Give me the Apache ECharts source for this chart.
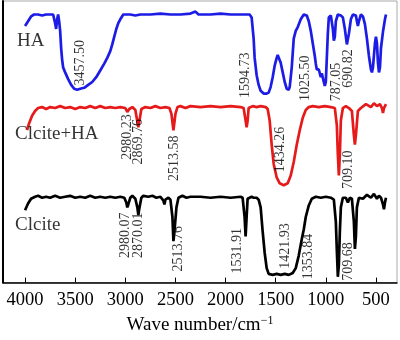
<!DOCTYPE html>
<html>
<head>
<meta charset="utf-8">
<script src="https://cdn.jsdelivr.net/npm/echarts@6/dist/echarts.min.js"></script>
<style>html,body{margin:0;padding:0;background:#fff}#c{width:400px;height:340px}</style>
</head>
<body>
<div id="c"></div>
<script>
// Wavenumber (cm^-1) and offset transmittance (a.u.)
const haWave = [4000,3970,3940,3910,3870,3830,3790,3750,3720,3700,3690,3680,3670,3660,3650,3640,3630,3620,3600,3570,3540,3510,3480,3450,3410,3370,3330,3290,3250,3210,3180,3150,3130,3110,3090,3070,3050,3020,2950,2900,2850,2750,2650,2550,2450,2350,2300,2270,2150,2050,1950,1850,1760,1740,1720,1710,1690,1670,1650,1620,1590,1570,1550,1530,1510,1490,1480,1470,1450,1430,1410,1390,1370,1360,1340,1320,1300,1280,1250,1220,1190,1170,1150,1130,1110,1100,1090,1080,1070,1050,1040,1030,1020,1010,1000,990,980,970,950,930,920,910,900,880,850,830,810,790,780,770,750,730,700,690,680,670,650,630,610,590,570,550,540,530,510,500,490,480,470,460,450,430,410,400];
const haT = [266,271,276,278,278,277,278,278,278,269,263,273,278,271,261,243,231,223,218,211,205,201,200,201,202,205,208,213,220,227,233,240,247,255,263,269,273,278,278,277,278,278,279,278,278,279,281,278,278,279,278,278,278,275,253,233,215,205,199,196,196,197,203,213,225,233,236,235,228,218,208,201,200,203,223,253,261,265,273,278,277,271,261,248,235,227,221,223,221,213,217,215,208,204,208,233,258,275,277,263,251,255,271,278,277,275,263,247,248,258,273,278,277,271,266,271,278,276,268,253,235,221,218,223,248,255,248,228,218,223,243,260,273,278];

const mixWave = [3980,3960,3930,3900,3870,3830,3790,3750,3700,3650,3600,3550,3500,3450,3400,3350,3300,3250,3200,3150,3100,3050,3000,2980,2960,2930,2900,2880,2870,2860,2840,2800,2750,2700,2650,2600,2560,2540,2520,2500,2480,2450,2400,2350,2250,2150,2050,1950,1850,1820,1800,1790,1780,1770,1730,1690,1650,1600,1580,1560,1540,1520,1490,1460,1420,1380,1350,1320,1290,1260,1230,1200,1170,1130,1070,1010,950,910,890,880,870,860,850,830,800,770,740,720,710,700,680,650,600,550,520,490,460,440,430,420,400];
const mixT = [158,165,173,178,181,182,180,182,181,183,181,182,180,182,181,183,181,183,181,182,181,182,181,177,180,182,179,167,161,167,180,182,181,183,181,182,181,175,158,175,182,183,181,183,182,183,182,183,182,181,168,161,168,181,183,182,183,182,180,168,143,123,109,103,101,103,111,125,143,158,171,179,182,183,182,183,182,181,163,133,111,133,168,181,183,181,178,153,143,153,178,181,185,182,186,183,185,181,176,181,185];

const calWave = [4000,3970,3940,3900,3870,3830,3790,3750,3700,3650,3600,3550,3500,3450,3400,3350,3300,3250,3200,3150,3100,3050,3010,2990,2980,2970,2950,2930,2900,2880,2870,2860,2840,2820,2770,2730,2690,2650,2620,2610,2600,2570,2550,2530,2520,2510,2490,2470,2430,2390,2350,2250,2150,2050,1950,1850,1830,1810,1800,1790,1780,1760,1740,1720,1690,1670,1650,1630,1610,1590,1570,1530,1490,1450,1410,1370,1330,1300,1270,1240,1220,1200,1170,1140,1100,1050,1000,950,920,900,890,880,870,860,850,830,800,780,760,740,720,710,700,690,670,630,590,550,520,490,470,450,430,420,410,400];
const calT = [75,82,87,89,90,88,89,88,90,88,89,90,88,89,88,90,88,89,88,89,88,89,88,83,78,81,88,90,87,78,70,77,88,90,89,90,88,89,85,81,86,88,86,68,43,53,78,88,90,88,89,89,88,89,88,89,88,68,48,68,87,88,89,88,88,86,78,53,31,15,9,8,9,8,9,8,10,15,28,45,55,68,80,87,89,88,89,88,86,63,33,6,18,53,78,88,88,83,88,87,63,35,48,78,88,87,91,88,92,87,90,88,81,76,83,88];

const seriesNames = ["HA", "Clcite+HA", "Clcite"];
const nameWave = [4080, 4100, 4100];
const nameLevel = [251, 154, 60];

const peakText = ["3457.50","1594.73","1025.50","787.05","690.82",
                  "2980.23","2869.76","2513.58","1434.26","709.10",
                  "2980.07","2870.01","2513.76","1531.91","1421.93","1353.84","709.68"];
const peakWave = [3450,1800,1200,900,780,
                  2980,2870,2510,1450,780,
                  3000,2870,2470,1880,1400,1170,780];
const peakLevel = [228,215,212,208,222,
                   151,146,129,138,117,
                   49,49,35,33,38,27,22];

const tickValues = [4000,3500,3000,2500,2000,1500,1000,500];

const FONT = '"Liberation Serif", "DejaVu Serif", serif';
const zip = (a, b) => a.map((v, i) => [v, b[i]]);

const chart = echarts.init(document.getElementById('c'), null, {renderer: 'canvas'});
chart.setOption({
  animation: false,
  backgroundColor: '#fff',
  grid: {left: 3, right: 3, top: 1, bottom: 47, show: true, borderColor: '#aaa', borderWidth: 1},
  xAxis: {
    type: 'value', min: 290, max: 4220, inverse: true,
    axisLine: {show: true, lineStyle: {color: '#000', width: 1.5}},
    axisTick: {show: true, inside: true, length: 5, customValues: tickValues, lineStyle: {color: '#000', width: 1}},
    axisLabel: {customValues: tickValues, formatter: v => String(v), fontSize: 18.5, fontFamily: FONT, color: '#000', margin: 8},
    splitLine: {show: false},
    name: '{a|Wave number/cm}{s|−1}',
    nameLocation: 'middle', nameGap: 31,
    nameTextStyle: {
      rich: {
        a: {fontSize: 19, fontFamily: FONT, color: '#000', lineHeight: 22},
        s: {fontSize: 12, fontFamily: FONT, color: '#000', lineHeight: 12, verticalAlign: 'top'}
      }
    }
  },
  yAxis: {
    type: 'value', min: 0, max: 292,
    axisLine: {show: true, lineStyle: {color: '#000', width: 2}},
    axisTick: {show: false}, axisLabel: {show: false}, splitLine: {show: false}
  },
  series: [
    {name: 'HA', type: 'line', data: zip(haWave, haT), showSymbol: false, lineStyle: {color: '#1c1ce6', width: 2.7}, z: 3},
    {name: 'Clcite+HA', type: 'line', data: zip(mixWave, mixT), showSymbol: false, lineStyle: {color: '#e61a1a', width: 2.7}, z: 3},
    {name: 'Clcite', type: 'line', data: zip(calWave, calT), showSymbol: false, lineStyle: {color: '#000', width: 2.7}, z: 3},
    {
      type: 'scatter', symbolSize: 0, silent: true, z: 5,
      data: seriesNames.map((n, i) => ({name: n, value: [nameWave[i], nameLevel[i]]})),
      label: {show: true, position: 'right', distance: 0, formatter: p => p.name, fontSize: 19, fontFamily: FONT, color: '#000'}
    },
    {
      type: 'scatter', symbolSize: 0, silent: true, z: 5,
      data: peakText.map((t, i) => ({name: t, value: [peakWave[i], peakLevel[i]]})),
      label: {show: true, position: 'inside', rotate: 90, formatter: p => p.name, fontSize: 14, fontFamily: FONT, color: '#000'}
    }
  ]
});
</script>
</body>
</html>
